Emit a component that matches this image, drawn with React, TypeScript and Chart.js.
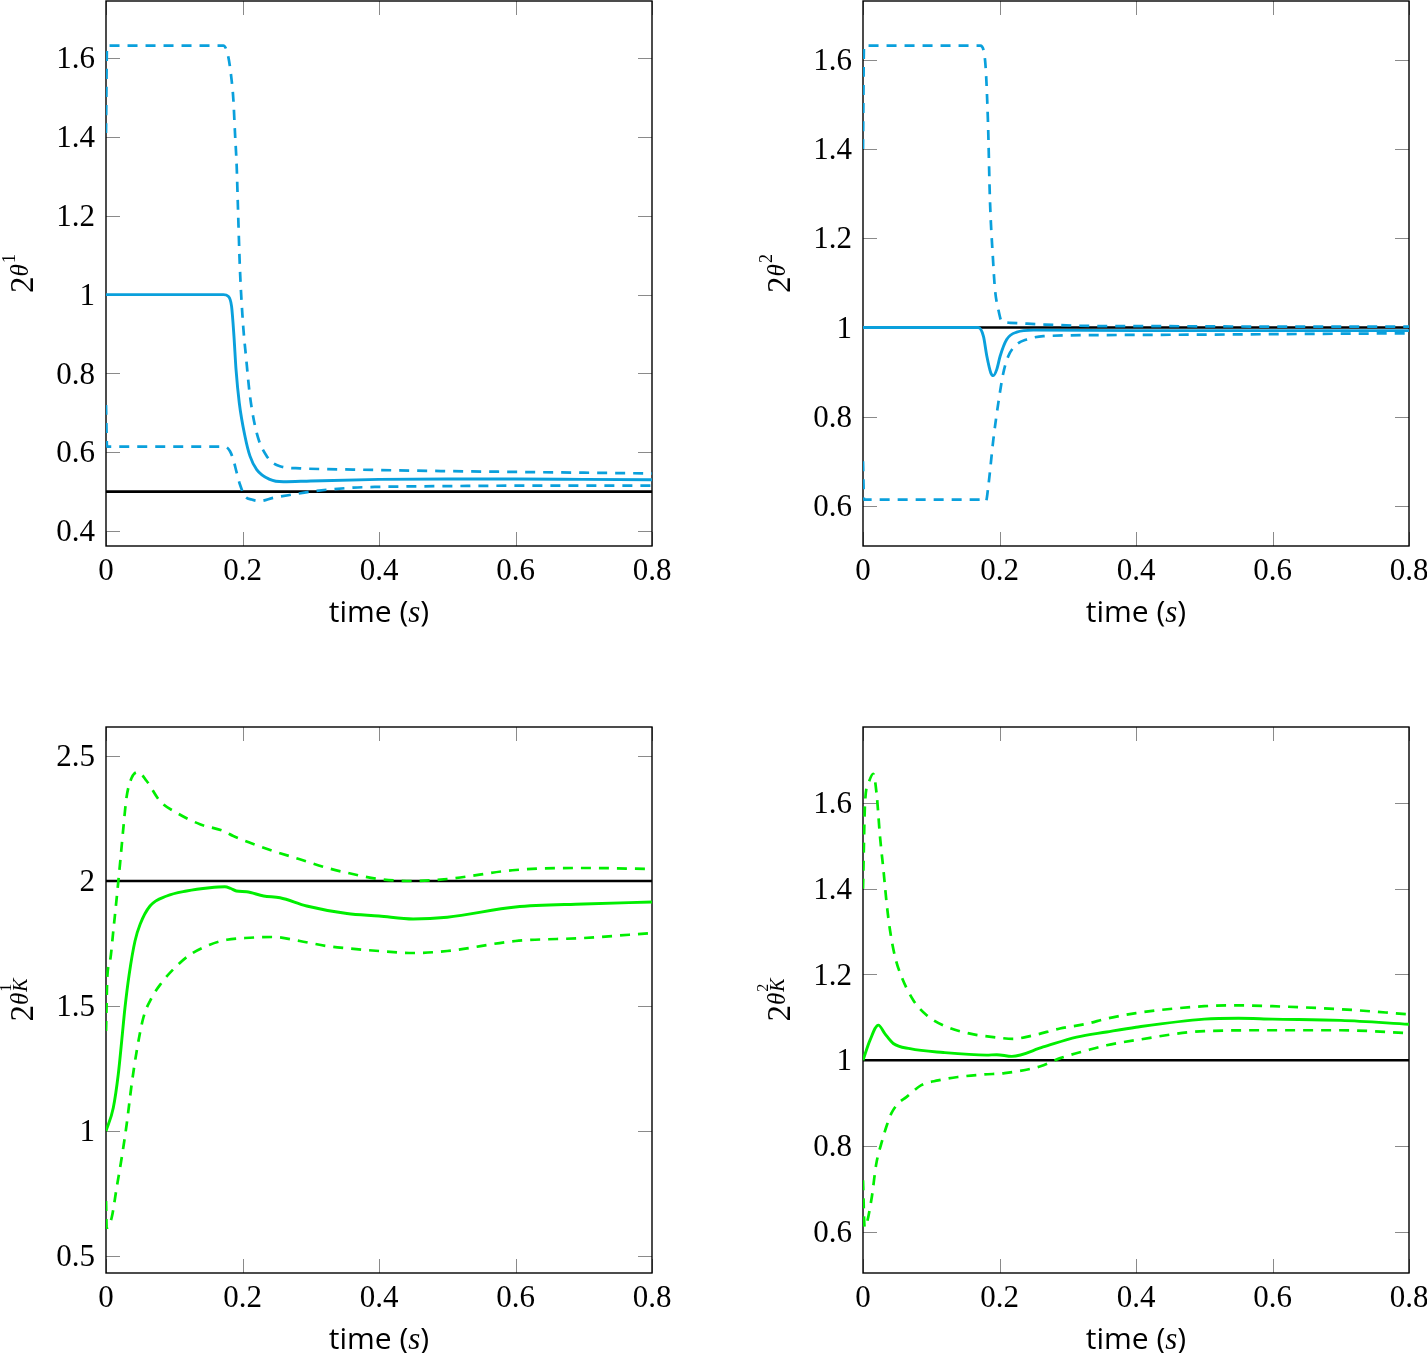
import React, { useEffect, useRef } from "react";
import { Chart, registerables } from "chart.js";

Chart.register(...registerables);

// ---------------- data ----------------
const timeTicks = [0, 0.2, 0.4, 0.6, 0.8];
const tlYTicks = [0.4, 0.6, 0.8, 1, 1.2, 1.4, 1.6];
const trYTicks = [0.6, 0.8, 1, 1.2, 1.4, 1.6];
const blYTicks = [0.5, 1, 1.5, 2, 2.5];
const brYTicks = [0.6, 0.8, 1, 1.2, 1.4, 1.6];

// top-left: 2^{theta^1}
const tlMeanT = [0, 0.172, 0.179, 0.184, 0.1875, 0.1905, 0.1953, 0.2037, 0.211, 0.2208, 0.24, 0.26, 0.3, 0.4, 0.5, 0.6, 0.7, 0.8];
const tlMeanV = [1, 1, 0.996, 0.97, 0.894, 0.81, 0.725, 0.64, 0.59, 0.556, 0.531, 0.525, 0.527, 0.531, 0.532, 0.532, 0.531, 0.53];
const tlUpT = [0, 0.0015, 0.172, 0.179, 0.184, 0.1866, 0.189, 0.1915, 0.193, 0.1963, 0.201, 0.2051, 0.211, 0.2208, 0.2355, 0.2549, 0.284, 0.362, 0.5, 0.6, 0.7, 0.8];
const tlUpV = [1.41, 1.632, 1.632, 1.605, 1.545, 1.495, 1.41, 1.325, 1.24, 1.063, 0.92, 0.843, 0.742, 0.649, 0.59, 0.5645, 0.559, 0.556, 0.552, 0.55, 0.548, 0.546];
const tlLoT = [0, 0.0015, 0.1743, 0.1817, 0.1866, 0.1915, 0.1963, 0.2037, 0.2134, 0.2256, 0.245, 0.2745, 0.304, 0.362, 0.4, 0.5, 0.6, 0.7, 0.8];
const tlLoV = [0.72, 0.614, 0.614, 0.6025, 0.581, 0.548, 0.518, 0.488, 0.48, 0.476, 0.484, 0.493, 0.501, 0.51, 0.512, 0.514, 0.515, 0.515, 0.515];
const tlRef = 0.5;

// top-right: 2^{theta^2}
const trMeanT = [0, 0.169, 0.1765, 0.1814, 0.1873, 0.191, 0.196, 0.201, 0.2105, 0.2252, 0.2496, 0.4, 0.6, 0.8];
const trMeanV = [1, 1, 0.98, 0.936, 0.898, 0.892, 0.906, 0.936, 0.973, 0.9895, 0.994, 0.993, 0.993, 0.993];
const trUpT = [0, 0.0015, 0.172, 0.1788, 0.183, 0.186, 0.1905, 0.1934, 0.1983, 0.2032, 0.2154, 0.2642, 0.357, 0.4, 0.6, 0.8];
const trUpV = [1.4, 1.632, 1.632, 1.6, 1.466, 1.287, 1.152, 1.085, 1.04, 1.014, 1.0105, 1.0067, 1.003, 1.003, 1.002, 1.002];
const trLoT = [0, 0.0015, 0.1765, 0.1802, 0.1836, 0.191, 0.1983, 0.2056, 0.213, 0.2252, 0.2398, 0.2642, 0.357, 0.5, 0.6, 0.8];
const trLoV = [0.7, 0.614, 0.614, 0.6105, 0.644, 0.749, 0.831, 0.898, 0.936, 0.962, 0.973, 0.9805, 0.983, 0.984, 0.985, 0.987];
const trRef = 1;

// bottom-left: 2^{theta_K^1}
const blMeanT = [0, 0.0107, 0.018, 0.023, 0.0278, 0.034, 0.0425, 0.05, 0.0645, 0.089, 0.118, 0.152, 0.174, 0.183, 0.191, 0.206, 0.231, 0.255, 0.294, 0.353, 0.4, 0.45, 0.5, 0.6, 0.7, 0.8];
const blMeanV = [1.0, 1.093, 1.227, 1.36, 1.493, 1.627, 1.76, 1.827, 1.9, 1.94, 1.96, 1.973, 1.977, 1.97, 1.96, 1.957, 1.94, 1.933, 1.9, 1.87, 1.86, 1.848, 1.855, 1.896, 1.908, 1.916];
const blUpT = [0, 0.002, 0.0059, 0.0107, 0.0205, 0.025, 0.03, 0.0376, 0.047, 0.0596, 0.079, 0.1035, 0.1377, 0.172, 0.1865, 0.211, 0.245, 0.284, 0.323, 0.353, 0.4, 0.45, 0.5, 0.6, 0.7, 0.8];
const blUpV = [1.4, 1.62, 1.68, 1.8, 2.067, 2.2, 2.333, 2.413, 2.436, 2.4, 2.32, 2.273, 2.227, 2.2, 2.18, 2.153, 2.12, 2.087, 2.053, 2.033, 2.008, 2.0, 2.008, 2.044, 2.052, 2.048];
const blLoT = [0, 0.001, 0.0083, 0.0156, 0.023, 0.0303, 0.0376, 0.045, 0.0547, 0.0669, 0.0815, 0.0986, 0.123, 0.152, 0.177, 0.211, 0.245, 0.284, 0.323, 0.353, 0.4, 0.45, 0.5, 0.6, 0.7, 0.8];
const blLoV = [0.72, 0.613, 0.653, 0.773, 0.893, 1.027, 1.187, 1.32, 1.453, 1.533, 1.593, 1.647, 1.705, 1.745, 1.765, 1.773, 1.776, 1.76, 1.74, 1.731, 1.72, 1.712, 1.72, 1.76, 1.772, 1.792];
const blRef = 2;

// bottom-right: 2^{theta_K^2}
const brMeanT = [0, 0.0103, 0.0225, 0.032, 0.0444, 0.0689, 0.1177, 0.181, 0.196, 0.218, 0.264, 0.313, 0.357, 0.4, 0.5, 0.55, 0.6, 0.7, 0.8];
const brMeanV = [1.0, 1.047, 1.082, 1.062, 1.039, 1.027, 1.018, 1.012, 1.013, 1.009, 1.031, 1.054, 1.066, 1.077, 1.096, 1.098, 1.096, 1.093, 1.084];
const brUpT = [0, 0.003, 0.008, 0.015, 0.02, 0.025, 0.03, 0.0347, 0.0396, 0.047, 0.0567, 0.0737, 0.0933, 0.1226, 0.157, 0.191, 0.22, 0.2495, 0.2886, 0.3278, 0.357, 0.4, 0.5, 0.55, 0.6, 0.7, 0.8];
const brUpV = [1.4, 1.6, 1.646, 1.668, 1.62, 1.52, 1.443, 1.365, 1.303, 1.241, 1.194, 1.14, 1.105, 1.078, 1.062, 1.054, 1.05, 1.058, 1.074, 1.085, 1.097, 1.11, 1.126, 1.128, 1.126, 1.119, 1.107];
const brLoT = [0, 0.0024, 0.0122, 0.0195, 0.0269, 0.0342, 0.0415, 0.0513, 0.0635, 0.0855, 0.11, 0.139, 0.178, 0.2076, 0.26, 0.289, 0.328, 0.357, 0.4, 0.5, 0.6, 0.7, 0.8];
const brLoV = [0.72, 0.611, 0.674, 0.759, 0.806, 0.845, 0.876, 0.899, 0.914, 0.942, 0.953, 0.961, 0.967, 0.97, 0.986, 1.005, 1.023, 1.035, 1.047, 1.068, 1.07, 1.07, 1.063];
const brRef = 1;

// ---------------- styling ----------------
const BLUE = "#0aa0dc";
const GREEN = "#00ee00";
const CW = 760;
const CH = 640;
const Y_AXIS_W = 106;
const AREA_W = 546;
const SERIF = "'Liberation Serif', 'DejaVu Serif', serif";
const SANS = "'Open Sans', 'Noto Sans', sans-serif";

type LabelSpec = { sup: string; sub?: string };

const fmt = (v: number) => String(Math.round(v * 100) / 100);

const pts = (t: number[], v: number[]) => t.map((x, i) => ({ x, y: v[i] }));

const framePlugin = {
  id: "frame",
  beforeDatasetsDraw(chart: any) {
    const { ctx, chartArea: a, scales } = chart;
    const L = 14;
    ctx.save();
    ctx.strokeStyle = "#8a8a8a";
    ctx.lineWidth = 1;
    ctx.beginPath();
    for (const t of scales.x.ticks) {
      const px = Math.round(scales.x.getPixelForValue(t.value)) + 0.5;
      ctx.moveTo(px, a.bottom);
      ctx.lineTo(px, a.bottom - L);
      ctx.moveTo(px, a.top);
      ctx.lineTo(px, a.top + L);
    }
    for (const t of scales.y.ticks) {
      const py = Math.round(scales.y.getPixelForValue(t.value)) + 0.5;
      ctx.moveTo(a.left, py);
      ctx.lineTo(a.left + L, py);
      ctx.moveTo(a.right, py);
      ctx.lineTo(a.right - L, py);
    }
    ctx.stroke();
    ctx.strokeStyle = "#000";
    ctx.lineWidth = 1.4;
    ctx.strokeRect(a.left, a.top, a.right - a.left, a.bottom - a.top);
    ctx.restore();
  },
};

function makeTitlePlugin(spec: LabelSpec) {
  return {
    id: "axisTitles",
    afterDraw(chart: any) {
      const { ctx, chartArea: a } = chart;
      ctx.save();
      ctx.fillStyle = "#000";
      ctx.textBaseline = "alphabetic";
      ctx.textAlign = "left";
      // x title: time (s)
      const parts: [string, string][] = [
        ["time (", `30px ${SANS}`],
        ["s", `italic 31px ${SERIF}`],
        [")", `30px ${SANS}`],
      ];
      let total = 0;
      const widths = parts.map(([s, f]) => {
        ctx.font = f;
        const w = ctx.measureText(s).width;
        total += w;
        return w;
      });
      let x = (a.left + a.right) / 2 - total / 2;
      const yb = a.bottom + 76;
      parts.forEach(([s, f], i) => {
        ctx.font = f;
        ctx.fillText(s, x, yb);
        x += widths[i];
      });

      // y title: 2^{theta^{sup}_{sub}}
      ctx.translate(a.left - 73, (a.top + a.bottom) / 2);
      ctx.rotate(-Math.PI / 2);
      const baseFont = `33px ${SERIF}`;
      const thetaFont = `italic 25px ${SERIF}`;
      const hasSub = !!spec.sub;
      const supFont = hasSub ? `16px ${SERIF}` : `18px ${SERIF}`;
      const subFont = `italic 20px ${SERIF}`;
      ctx.font = baseFont;
      const w2 = ctx.measureText("2").width;
      ctx.font = thetaFont;
      const wt = ctx.measureText("θ").width;
      ctx.font = supFont;
      const ws = ctx.measureText(spec.sup).width;
      let wk = 0;
      if (hasSub) {
        ctx.font = subFont;
        wk = ctx.measureText(spec.sub!).width;
      }
      const tot = w2 + wt + 1 + Math.max(ws, wk);
      let u = -tot / 2;
      ctx.font = baseFont;
      ctx.fillText("2", u, 0);
      u += w2;
      ctx.font = thetaFont;
      ctx.fillText("θ", u, -5);
      u += wt + 1;
      ctx.font = supFont;
      ctx.fillText(spec.sup, u, hasSub ? -22 : -18);
      if (hasSub) {
        ctx.font = subFont;
        ctx.fillText(spec.sub!, u, -6);
      }
      ctx.restore();
    },
  };
}

type PanelProps = {
  left: number;
  top: number;
  areaH: number;
  color: string;
  meanT: number[];
  meanV: number[];
  upT: number[];
  upV: number[];
  loT: number[];
  loV: number[];
  refV: number;
  yMin: number;
  yMax: number;
  yTicks: number[];
  label: LabelSpec;
};

function Panel(p: PanelProps) {
  const ref = useRef<HTMLCanvasElement>(null);
  useEffect(() => {
    if (!ref.current) return;
    const lineCommon = {
      pointRadius: 0,
      fill: false,
      cubicInterpolationMode: "monotone" as const,
    };
    const chart = new Chart(ref.current, {
      type: "line",
      data: {
        datasets: [
          { ...lineCommon, data: pts(p.meanT, p.meanV), borderColor: p.color, borderWidth: 2.9 },
          { ...lineCommon, data: pts(p.upT, p.upV), borderColor: p.color, borderWidth: 2.7, borderDash: [10, 8] },
          { ...lineCommon, data: pts(p.loT, p.loV), borderColor: p.color, borderWidth: 2.7, borderDash: [10, 8] },
          { ...lineCommon, data: [{ x: 0, y: p.refV }, { x: 0.8, y: p.refV }], borderColor: "#000", borderWidth: 2.6 },
        ],
      } as any,
      options: {
        responsive: false,
        animation: false,
        events: [],
        layout: { padding: { left: 0, top: 1, right: CW - Y_AXIS_W - AREA_W, bottom: 0 } },
        plugins: { legend: { display: false }, tooltip: { enabled: false } },
        scales: {
          x: {
            type: "linear",
            min: 0,
            max: 0.8,
            afterBuildTicks: (s: any) => {
              s.ticks = timeTicks.map((v) => ({ value: v }));
            },
            afterFit: (s: any) => {
              s.height = CH - 1 - p.areaH;
              s.paddingLeft = 0;
              s.paddingRight = 0;
            },
            grid: { display: false, drawTicks: false },
            border: { display: false },
            ticks: {
              autoSkip: false,
              maxRotation: 0,
              minRotation: 0,
              padding: 7,
              color: "#000",
              font: { family: SERIF, size: 31 },
              callback: (v: any) => fmt(Number(v)),
            },
          },
          y: {
            type: "linear",
            min: p.yMin,
            max: p.yMax,
            afterBuildTicks: (s: any) => {
              s.ticks = p.yTicks.map((v) => ({ value: v }));
            },
            afterFit: (s: any) => {
              s.width = Y_AXIS_W;
              s.paddingTop = 0;
              s.paddingBottom = 0;
            },
            grid: { display: false, drawTicks: false },
            border: { display: false },
            ticks: {
              autoSkip: false,
              padding: 11,
              labelOffset: 2,
              color: "#000",
              font: { family: SERIF, size: 31 },
              callback: (v: any) => fmt(Number(v)),
            },
          },
        },
      } as any,
      plugins: [framePlugin, makeTitlePlugin(p.label)],
    });
    return () => chart.destroy();
  }, []);
  return (
    <canvas
      ref={ref}
      width={CW}
      height={CH}
      style={{ position: "absolute", left: p.left, top: p.top, width: CW, height: CH }}
    />
  );
}

export default function App() {
  return (
    <div
      style={{
        position: "absolute",
        left: 0,
        top: 0,
        width: 1427,
        height: 1353,
        overflow: "hidden",
        background: "#fff",
      }}
    >
      <Panel left={0} top={0} areaH={545} color={BLUE} meanT={tlMeanT} meanV={tlMeanV} upT={tlUpT} upV={tlUpV} loT={tlLoT} loV={tlLoV} refV={tlRef} yMin={0.362} yMax={1.745} yTicks={tlYTicks} label={{ sup: "1" }} />
      <Panel left={757} top={0} areaH={545} color={BLUE} meanT={trMeanT} meanV={trMeanV} upT={trUpT} upV={trUpV} loT={trLoT} loV={trLoV} refV={trRef} yMin={0.51} yMax={1.732} yTicks={trYTicks} label={{ sup: "2" }} />
      <Panel left={0} top={726} areaH={546} color={GREEN} meanT={blMeanT} meanV={blMeanV} upT={blUpT} upV={blUpV} loT={blLoT} loV={blLoV} refV={blRef} yMin={0.432} yMax={2.616} yTicks={blYTicks} label={{ sup: "1", sub: "K" }} />
      <Panel left={757} top={726} areaH={546} color={GREEN} meanT={brMeanT} meanV={brMeanV} upT={brUpT} upV={brUpV} loT={brLoT} loV={brLoV} refV={brRef} yMin={0.504} yMax={1.777} yTicks={brYTicks} label={{ sup: "2", sub: "K" }} />
    </div>
  );
}
